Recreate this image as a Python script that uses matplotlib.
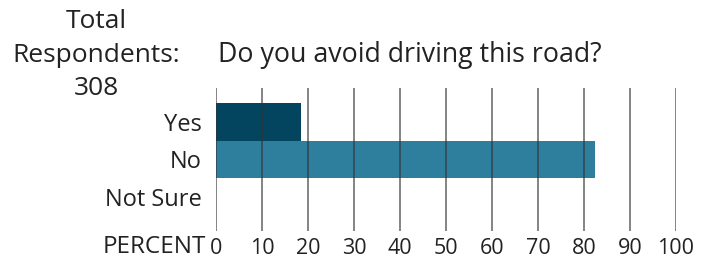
import matplotlib
matplotlib.use("Agg")
import matplotlib.pyplot as plt

# Data
categories = ["Yes", "No", "Not Sure"]
percents   = [18.5, 82.3, 0.0]
bar_colors = ["#03445f", "#2e7f9e", "#2e7f9e"]
x_ticks    = [0, 10, 20, 30, 40, 50, 60, 70, 80, 90, 100]

TITLE      = "Do you avoid driving this road?"
RESP_TEXT  = "Total\nRespondents:\n308"
FONT       = "Open Sans"
TEXT_COLOR = "#222222"

plt.rcParams["font.family"] = [FONT, "DejaVu Sans"]

fig = plt.figure(figsize=(7.04, 2.64), dpi=100)
fig.patch.set_facecolor("white")
ax = fig.add_axes([216 / 704, 1 - 231 / 264, 460 / 704, 143 / 264])

ypos = list(range(len(categories)))
ax.barh(ypos, percents, height=1.0, color=bar_colors, zorder=1)

# vertical gridlines drawn over the bars
for xt in x_ticks:
    ax.axvline(xt, color="#333333", lw=1.3, alpha=0.65, zorder=3)

ax.set_xlim(0, 100)
ax.set_ylim(2.9, -0.9)
ax.set_yticks(ypos)
ax.set_yticklabels(categories, fontsize=17, color=TEXT_COLOR)
ax.set_xticks(x_ticks)
ax.set_xticklabels([str(t) for t in x_ticks], fontsize=15.5, color=TEXT_COLOR)
ax.tick_params(axis="both", length=0)
ax.tick_params(axis="x", pad=5)
ax.tick_params(axis="y", pad=10)
for spine in ax.spines.values():
    spine.set_visible(False)

ax.text(-0.022, -0.11, "PERCENT", transform=ax.transAxes, ha="right", va="center",
        fontsize=17.5, color=TEXT_COLOR)

fig.text(218 / 704, 1 - 55 / 264, TITLE, ha="left", va="center",
         fontsize=19.3, color=TEXT_COLOR)
fig.text(96 / 704, 1 - 55 / 264, RESP_TEXT, ha="center", va="center",
         fontsize=19, color=TEXT_COLOR, linespacing=1.45)

fig.savefig("out.png", dpi=100)
